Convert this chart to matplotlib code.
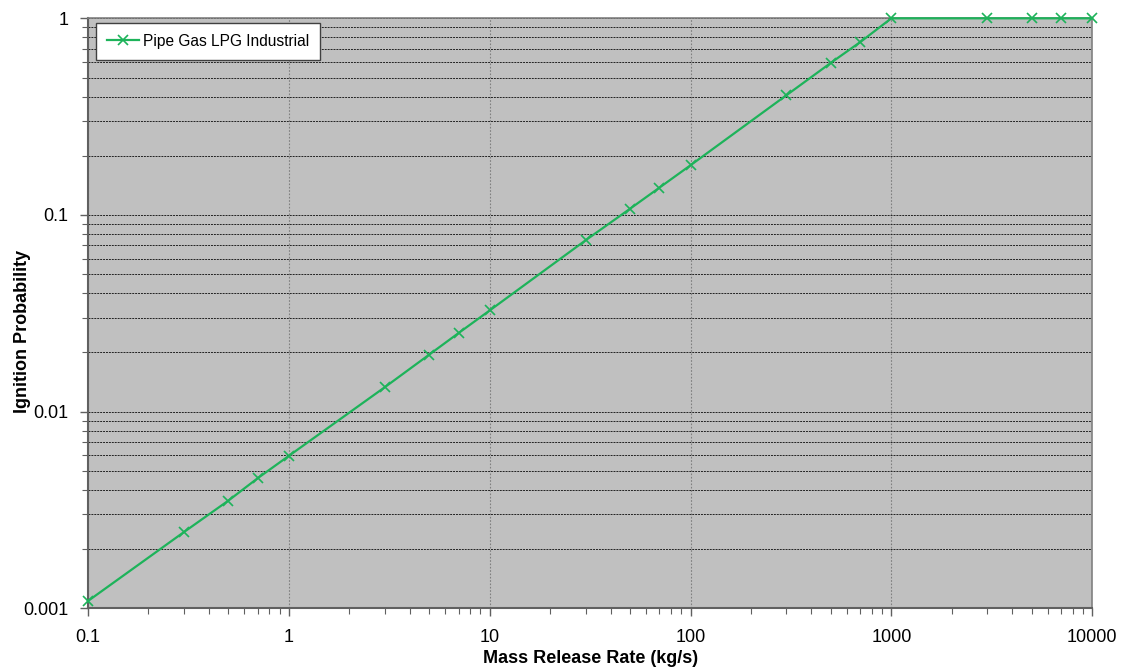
import numpy as np
import matplotlib
matplotlib.use('Agg')
import matplotlib.pyplot as plt
from matplotlib.ticker import LogLocator, FixedLocator, FuncFormatter, NullFormatter

plt.rcParams['font.family'] = ['Liberation Sans', 'DejaVu Sans']

# datos
masa = [0.1, 0.3, 0.5, 0.7, 1, 3, 5, 7, 10, 30, 50, 70, 100, 300, 500, 700,
        1000, 3000, 5000, 7000, 10000]
prob = [0.00109, 0.00244, 0.00353, 0.00459, 0.00596, 0.0133, 0.0195, 0.0251,
        0.0327, 0.0743, 0.1076, 0.1377, 0.179, 0.406, 0.594, 0.757,
        1.0, 1.0, 1.0, 1.0, 1.0]
etiqueta = 'Pipe Gas LPG Industrial'
x_ticks = [0.1, 1, 10, 100, 1000, 10000]
y_ticks = [0.001, 0.01, 0.1, 1]

fig = plt.figure(figsize=(11.27, 6.71), dpi=100)
ax = fig.add_axes([0.0781, 0.0934, 0.8910, 0.8793])
ax.set_facecolor('#C0C0C0')

ax.plot(masa, prob, color='#1DB35A', lw=1.6, marker='x', ms=7, mew=1.2,
        label=etiqueta, clip_on=False, zorder=5)

ax.set_xscale('log')
ax.set_yscale('log')
ax.set_xlim(0.1, 10000)
ax.set_ylim(0.001, 1)

ax.xaxis.set_major_locator(FixedLocator(x_ticks))
ax.yaxis.set_major_locator(FixedLocator(y_ticks))
ax.xaxis.set_minor_locator(LogLocator(base=10, subs=np.arange(2, 10), numticks=20))
ax.yaxis.set_minor_locator(LogLocator(base=10, subs=np.arange(2, 10), numticks=20))
fmt = FuncFormatter(lambda v, p: ('%g' % v))
ax.xaxis.set_major_formatter(fmt)
ax.yaxis.set_major_formatter(fmt)
ax.xaxis.set_minor_formatter(NullFormatter())
ax.yaxis.set_minor_formatter(NullFormatter())

# rejilla
ax.grid(True, which='major', axis='x', color='#808080', ls=(0, (1.5, 1.5)), lw=0.8)
ax.grid(True, which='both', axis='y', color='#222222', ls=(0, (2, 1)), lw=0.7)
ax.set_axisbelow(True)

for s in ['top', 'right']:
    ax.spines[s].set_color('#808080')
    ax.spines[s].set_linewidth(1.2)
for s in ['left', 'bottom']:
    ax.spines[s].set_color('#606060')
    ax.spines[s].set_linewidth(1.5)

ax.tick_params(which='major', direction='out', length=6, width=1, color='#606060',
               labelsize=13, labelcolor='black')
ax.tick_params(which='minor', direction='out', length=4, width=0.8, color='#606060')
ax.tick_params(axis='x', which='major', pad=9)
ax.tick_params(axis='y', which='major', pad=8)

ax.set_xlabel('Mass Release Rate (kg/s)', fontsize=13, fontweight='bold')
ax.xaxis.set_label_coords(0.5, -0.0705)
ax.set_ylabel('Ignition Probability', fontsize=13, fontweight='bold')
ax.yaxis.set_label_coords(-0.057, 0.469)

leg = ax.legend(loc='upper left', bbox_to_anchor=(0.0077, 0.9925), fontsize=11.2,
                frameon=True, fancybox=False, borderpad=0.7, borderaxespad=0,
                handlelength=2.1, handletextpad=0.25)
leg.get_frame().set_edgecolor('#404040')
leg.get_frame().set_facecolor('white')
leg.get_frame().set_alpha(1)
leg.get_frame().set_linewidth(1.0)

fig.savefig('out.png', dpi=100, facecolor='white')
